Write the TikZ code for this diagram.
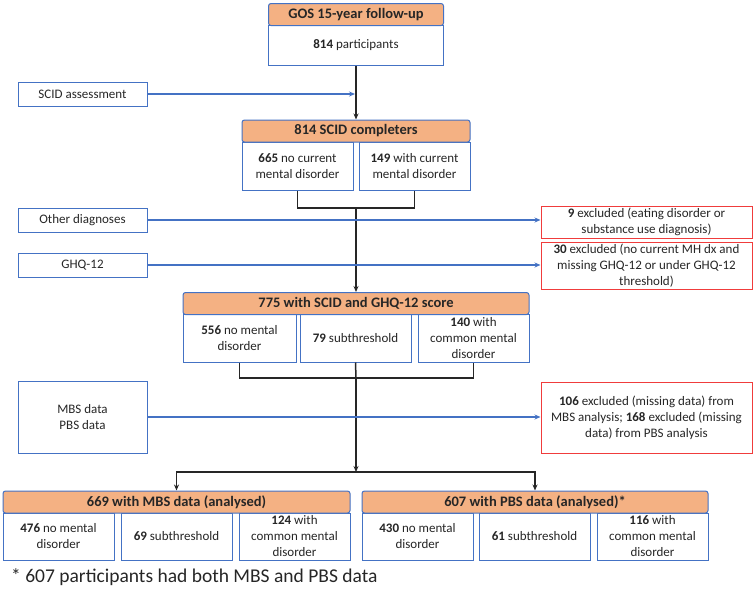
\documentclass[tikz,border=0pt]{standalone}
\usepackage{fontspec}
\setmainfont{Carlito}
\usetikzlibrary{arrows.meta}
\definecolor{boxblue}{HTML}{4472C4}
\definecolor{headfill}{HTML}{F4B183}
\definecolor{exred}{HTML}{F03C3C}
\definecolor{ink}{HTML}{262626}
\tikzset{>={Stealth[length=6pt,width=5pt]}}

\begin{document}
\begin{tikzpicture}[x=1pt,y=-1pt,
    every node/.style={font=\fontsize{13}{16}\selectfont, text=ink, align=center, inner sep=0pt},
    head/.style={draw=boxblue, fill=headfill, rounded corners=2.5pt, line width=1pt,
      font=\bfseries\fontsize{14.5}{16}\selectfont, minimum height=22pt},
    sub/.style={draw=boxblue, fill=white, line width=1pt, minimum width=111pt, minimum height=48pt},
    side/.style={draw=boxblue, line width=1pt, minimum width=129pt},
    excl/.style={draw=exred, line width=1pt, minimum width=211pt},
    flow/.style={->, draw=ink, line width=1.5pt},
    feed/.style={->, draw=boxblue, line width=1.3pt}]
    \useasboundingbox (0,0) rectangle (756,592);

    % main column
    \node (gosbody) [sub, minimum width=175pt, minimum height=40pt] at (356,45) {\textbf{814} participants};
    \node (goshead) [head, minimum width=175pt] at (356,14.5) {GOS 15-year follow-up};

    \node (scidno) [sub] at (297.5,166) {\textbf{665} no current\\mental disorder};
    \node (scidyes) [sub] at (414.5,166) {\textbf{149} with current\\mental disorder};
    \node (scidhead) [head, minimum width=228pt] at (356,131) {814 SCID completers};

    \node (scoreno) [sub, minimum width=113pt] at (239.5,338) {\textbf{556} no mental\\disorder};
    \node (scoresub) [sub] at (355.5,338) {\textbf{79} subthreshold};
    \node (scorecmd) [sub] at (473.5,338) {\textbf{140} with\\common mental\\disorder};
    \node (scorehead) [head, minimum width=346pt] at (356,303.5) {775 with SCID and GHQ-12 score};

    \node (mbsno) [sub, minimum height=47pt] at (58.5,536.5) {\textbf{476} no mental\\disorder};
    \node (mbssub) [sub, minimum height=47pt] at (176.5,536.5) {\textbf{69} subthreshold};
    \node (mbscmd) [sub, minimum height=47pt] at (294.5,536.5) {\textbf{124} with\\common mental\\disorder};
    \node (mbshead) [head, minimum width=347pt] at (176.5,502) {669 with MBS data (analysed)};

    \node (pbsno) [sub, minimum height=47pt] at (417.5,536.5) {\textbf{430} no mental\\disorder};
    \node (pbssub) [sub, minimum height=47pt] at (534.5,536.5) {\textbf{61} subthreshold};
    \node (pbscmd) [sub, minimum height=47pt] at (652.5,536.5) {\textbf{116} with\\common mental\\disorder};
    \node (pbshead) [head, minimum width=346pt] at (535,502) {607 with PBS data (analysed)*};

    % side inputs
    \node (scid) [side, minimum height=24pt] at (82.5,94) {SCID assessment};
    \node (other) [side, minimum height=24pt] at (82.5,220) {Other diagnoses};
    \node (ghq) [side, minimum height=24pt] at (82.5,265) {GHQ-12};
    \node (mbspbs) [side, minimum height=72pt] at (82.5,417) {MBS data\\PBS data};

    % exclusions
    \node (ex1) [excl, minimum height=32pt] at (646.5,222) {\textbf{9} excluded (eating disorder or\\substance use diagnosis)};
    \node (ex2) [excl, minimum height=47pt] at (646.5,265.5) {\textbf{30} excluded (no current MH dx and\\missing GHQ-12 or under GHQ-12\\threshold)};
    \node (ex3) [excl, minimum height=71pt] at (646.5,417.5) {\textbf{106} excluded (missing data) from\\MBS analysis; \textbf{168} excluded (missing\\data) from PBS analysis};

    \node (note) [anchor=west, font=\fontsize{19.5}{22}\selectfont] at (11,577) {* 607 participants had both MBS and PBS data};

    \coordinate (scidhit) at (355,94);
    \coordinate (scidjoin) at (356,208);
    \coordinate (scorejoin) at (356,378);
    \coordinate (split) at (356,472);

    % black flow
    \draw[flow] (gosbody.south) -- (scidhead.north);
    \draw[draw=ink, line width=1.5pt] (scidno.south) |- (scidjoin) -| (scidyes.south);
    \draw[flow] (scidjoin) -- (scorehead.north);
    \draw[draw=ink, line width=1.5pt] (scoreno.south) |- (scorejoin) -| (scorecmd.south);
    \draw[draw=ink, line width=1.5pt] (scoresub.south) -- (scorejoin);
    \draw[flow] (scorejoin) -- (split);
    \draw[flow] (split) -| (mbshead.north);
    \draw[flow] (split) -| (pbshead.north);

    % blue feeds
    \draw[feed] (scid.east) -- (scidhit);
    \draw[feed] (other.east) -- (other.east -| ex1.west);
    \draw[feed] (ghq.east) -- (ghq.east -| ex2.west);
    \draw[feed] (mbspbs.east) -- (mbspbs.east -| ex3.west);
\end{tikzpicture}
\end{document}
